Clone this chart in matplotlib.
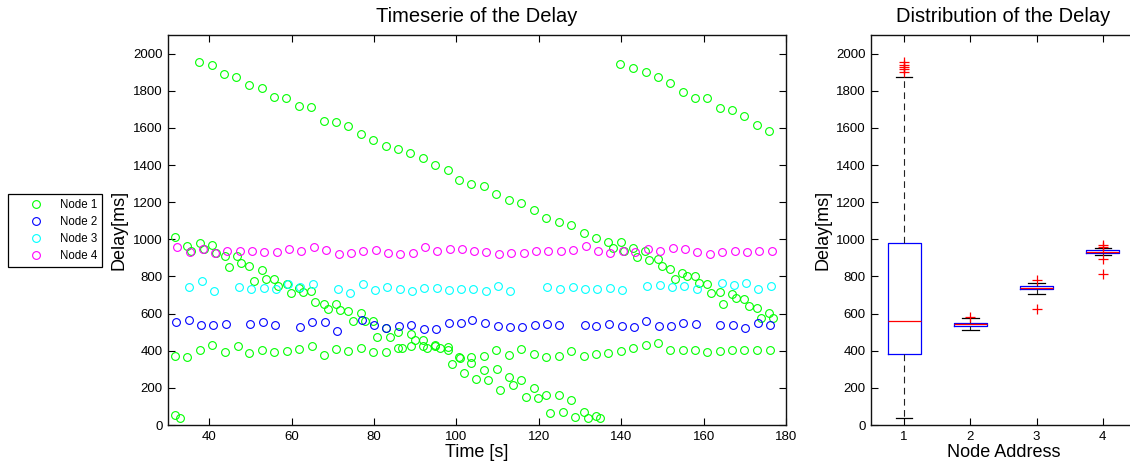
import matplotlib
matplotlib.use('Agg')
import matplotlib.pyplot as plt

plt.rcParams['font.family'] = ['Liberation Sans', 'DejaVu Sans']

# delay samples per node: time [s], delay [ms]
node1_t = [31.7, 31.7, 31.7, 32.9, 34.7, 34.7, 35.6, 37.6, 37.7, 37.7, 38.7,
           40.7, 40.7, 40.8, 41.6, 43.7, 43.8, 43.8, 44.7, 46.6, 46.7, 46.9, 47.8,
           49.7, 49.7, 49.7, 50.8, 52.7, 52.8, 52.8, 53.8, 55.7, 55.8, 55.8, 56.8,
           58.7, 58.8, 58.8, 59.9, 61.8, 61.7, 61.9, 62.7, 64.8, 64.7, 64.9, 65.8,
           67.8, 67.8, 67.8, 68.8, 70.8, 70.8, 70.8, 71.8, 73.8, 73.8, 73.8, 74.9,
           76.8, 76.8, 76.8, 77.8, 79.8, 79.8, 79.8, 80.8, 82.8, 82.8, 82.8, 83.8,
           85.8, 85.8, 85.8, 86.8, 88.8, 88.9, 88.9, 89.9, 91.9, 91.9, 91.9, 92.9,
           94.8, 94.9, 94.9, 95.9, 97.9, 97.9, 97.9, 98.9, 100.7, 100.6, 100.8, 101.8,
           103.6, 103.6, 103.6, 104.7, 106.7, 106.7, 106.8, 107.7, 109.7, 109.7, 109.8, 110.7,
           112.7, 112.8, 112.8, 113.8, 115.7, 115.8, 115.8, 116.8, 118.8, 118.8, 118.8, 119.8,
           121.8, 121.8, 121.8, 122.8, 124.8, 124.8, 124.8, 125.8, 127.8, 127.9, 127.9, 128.9,
           130.9, 130.9, 130.9, 131.9, 133.8, 133.8, 133.9, 134.9, 136.9, 136.9, 137.9,
           139.8, 139.9, 139.9, 140.6, 142.8, 142.8, 142.8, 143.9, 145.9, 145.7, 146.0, 146.8,
           148.9, 149.0, 149.0, 149.8, 151.8, 151.9, 151.9, 153.0, 154.9, 154.8, 154.9, 155.9,
           157.9, 157.8, 157.9, 158.9, 160.8, 160.9, 160.9, 161.9, 163.9, 163.9, 163.9, 164.8,
           166.9, 166.8, 167.0, 167.9, 169.9, 169.9, 169.9, 170.9, 172.9, 173.0, 173.0, 174.0,
           175.9, 175.9, 176.0, 176.8]
node1_d = [1011, 371, 56, 38, 964, 364, 935, 1957, 978, 405, 946,
           1937, 969, 431, 928, 1892, 910, 391, 851, 1872, 908, 427, 874,
           1831, 856, 387, 775, 1813, 833, 402, 784, 1768, 784, 391, 748,
           1759, 757, 400, 712, 1718, 739, 411, 715, 1711, 721, 427, 661,
           1635, 654, 378, 625, 1630, 649, 409, 618, 1610, 613, 396, 559,
           1567, 604, 414, 559, 1533, 559, 393, 474, 1502, 523, 393, 472,
           1488, 499, 414, 414, 1463, 490, 423, 456, 1438, 456, 427, 414,
           1398, 430, 424, 414, 1373, 418, 405, 330, 1317, 364, 360, 279,
           1297, 366, 333, 247, 1287, 369, 297, 243, 1242, 405, 301, 186,
           1211, 378, 258, 216, 1195, 409, 243, 153, 1159, 382, 198, 148,
           1116, 366, 162, 67, 1093, 373, 162, 68, 1075, 400, 135, 41,
           1033, 373, 72, 36, 1006, 382, 49, 36, 986, 387, 955,
           1946, 984, 400, 937, 1921, 953, 413, 903, 1901, 935, 432, 888,
           1872, 894, 441, 858, 1842, 842, 402, 784, 1792, 820, 405, 805,
           1761, 802, 405, 766, 1759, 757, 393, 710, 1705, 714, 396, 652,
           1694, 703, 405, 685, 1662, 681, 405, 643, 1615, 629, 405, 577,
           1583, 605, 402, 577]

node2_t = [31.9, 35.0, 37.9, 41.0, 44.0, 50.0, 53.0, 55.9, 62.0, 65.0,
           68.0, 71.0, 77.1, 80.0, 83.0, 86.1, 89.1, 92.1, 95.1, 98.1,
           101.0, 103.9, 107.0, 110.1, 113.0, 115.9, 119.1, 122.0, 125.0, 131.1,
           134.0, 137.1, 140.1, 143.0, 146.1, 149.1, 152.1, 155.1, 158.1, 164.1,
           167.1, 170.1, 173.1, 176.1]
node2_d = [553, 564, 541, 541, 542, 546, 553, 539, 528, 555,
           553, 506, 568, 539, 523, 532, 541, 519, 519, 550,
           550, 568, 550, 535, 526, 526, 539, 544, 537, 541,
           535, 544, 535, 528, 562, 532, 532, 550, 544, 541,
           537, 521, 551, 541]

node3_t = [35.1, 38.2, 41.1, 47.2, 50.2, 53.2, 56.2, 59.1, 62.1, 65.1,
           71.2, 74.1, 77.3, 80.3, 83.2, 86.2, 89.2, 92.2, 95.2, 98.2,
           101.2, 104.1, 107.1, 110.2, 113.1, 122.1, 125.2, 128.2, 131.2, 134.1,
           137.2, 140.2, 146.3, 149.3, 152.3, 155.3, 158.3, 164.4, 167.3, 170.3,
           173.3, 176.3]
node3_d = [744, 773, 721, 742, 730, 739, 730, 757, 744, 757,
           733, 712, 760, 728, 742, 733, 724, 739, 739, 726,
           733, 733, 724, 748, 724, 742, 735, 742, 730, 733,
           737, 726, 751, 755, 744, 746, 733, 762, 755, 766,
           732, 750]

node4_t = [32.3, 35.4, 38.4, 41.4, 44.4, 47.4, 50.4, 53.4, 56.4, 59.4,
           62.4, 65.4, 68.4, 71.4, 74.4, 77.4, 80.4, 83.4, 86.4, 89.4,
           92.4, 95.4, 98.4, 101.3, 104.3, 107.3, 110.3, 113.3, 116.3, 119.3,
           122.3, 125.3, 128.4, 131.4, 134.4, 137.4, 140.4, 143.4, 146.4, 149.5,
           152.5, 155.5, 158.5, 161.5, 164.5, 167.5, 170.5, 173.5, 176.5]
node4_d = [957, 933, 946, 928, 935, 935, 937, 930, 933, 950,
           935, 960, 941, 921, 924, 935, 941, 924, 923, 926,
           960, 935, 948, 950, 935, 932, 923, 928, 928, 935,
           935, 939, 942, 962, 937, 924, 939, 933, 950, 935,
           953, 946, 930, 923, 933, 939, 933, 935, 935]

# box statistics of the whole delay record per node
node_ids = [1, 2, 3, 4]
box_med = [561, 542, 737, 933]
box_q1 = [380, 533, 730, 926]
box_q3 = [981, 551, 748, 940]
box_lo = [36, 509, 703, 915]
box_hi = [1875, 574, 766, 954]
box_fliers = [[1900, 1915, 1928, 1940, 1955], [583], [779, 626], [958, 968, 892, 814]]

series = [(node1_t, node1_d, (0, 1, 0), 'Node 1'),
          (node2_t, node2_d, (0, 0, 1), 'Node 2'),
          (node3_t, node3_d, (0, 1, 1), 'Node 3'),
          (node4_t, node4_d, (1, 0, 1), 'Node 4')]

W, H = 1130, 466
fig = plt.figure(figsize=(W / 100, H / 100), dpi=100)
ax1 = fig.add_axes([168 / W, 41 / H, (786 - 168) / W, 390 / H])
ax2 = fig.add_axes([871 / W, 41 / H, (1136 - 871) / W, 390 / H])

handles = []
for t, d, col, name in series:
    h, = ax1.plot(t, d, 'o', mfc='none', mec=col, ms=5.6, mew=0.8,
                  linestyle='none', label=name)
    handles.append(h)

ax1.set_xlim(30, 180)
ax1.set_ylim(0, 2100)
ax1.set_xticks(range(40, 181, 20))
ax1.set_yticks(range(0, 2001, 200))
ax1.set_title('Timeserie of the Delay', fontsize=14.5, pad=9)
ax1.set_xlabel('Time [s]', fontsize=13, labelpad=1)
ax1.set_ylabel('Delay[ms]', fontsize=13, labelpad=4)

stats = []
for i in range(len(node_ids)):
    stats.append(dict(med=box_med[i], q1=box_q1[i], q3=box_q3[i],
                      whislo=box_lo[i], whishi=box_hi[i], fliers=box_fliers[i]))

ax2.bxp(stats, positions=node_ids, widths=0.5, capwidths=0.25,
        boxprops=dict(color='blue', linewidth=0.9),
        medianprops=dict(color='red', linewidth=0.9),
        whiskerprops=dict(color='#222222', linewidth=0.8, linestyle=(0, (6, 4))),
        capprops=dict(color='black', linewidth=0.9),
        flierprops=dict(marker='+', markeredgecolor='red', markersize=7, mew=0.9))

ax2.set_xlim(0.5, 4.5)
ax2.set_ylim(0, 2100)
ax2.set_xticks(node_ids)
ax2.set_xticklabels([str(n) for n in node_ids])
ax2.set_yticks(range(0, 2001, 200))
ax2.set_title('Distribution of the Delay', fontsize=14.5, pad=9)
ax2.set_xlabel('Node Address', fontsize=13, labelpad=1)
ax2.set_ylabel('Delay[ms]', fontsize=13, labelpad=3)

for ax in (ax1, ax2):
    ax.tick_params(direction='in', top=True, right=True, length=5,
                   width=0.8, labelsize=9.5, pad=4)
    for sp in ax.spines.values():
        sp.set_linewidth(1.0)
        sp.set_color('#111111')
# right edge of the box plot runs off the figure
ax2.tick_params(right=False)

leg = fig.legend(handles=handles, loc='upper left',
                 bbox_to_anchor=(8 / W, 1 - 194 / H), fontsize=8.3,
                 fancybox=False, edgecolor='black', framealpha=1,
                 handlelength=4.0, handletextpad=0.1, borderpad=0.4,
                 labelspacing=0.45, borderaxespad=0)
leg.get_frame().set_linewidth(0.9)

fig.savefig('out.png', dpi=100)
